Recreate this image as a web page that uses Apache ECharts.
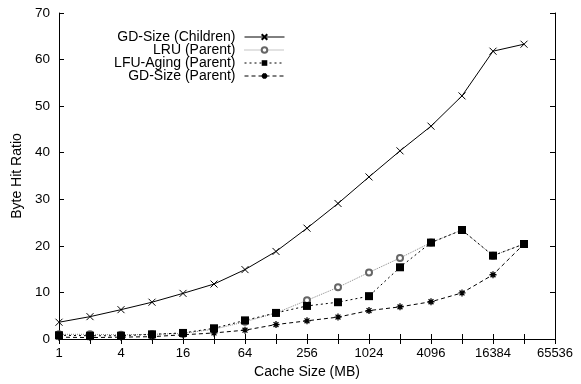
<!DOCTYPE html>
<html>
<head>
<meta charset="utf-8">
<script src="https://cdn.jsdelivr.net/npm/echarts@6/dist/echarts.min.js"></script>
<style>
  html, body { margin: 0; padding: 0; background: #fff; }
  #chart { width: 581px; height: 384px; }
</style>
</head>
<body>
<div id="chart"></div>
<script>
// Cache sizes in MB (powers of two)
const cacheSizes = [1, 2, 4, 8, 16, 32, 64, 128, 256, 512, 1024, 2048, 4096, 8192, 16384, 32768];

// Byte hit ratio (%) for each policy
const gdSizeChildren = [3.6, 4.8, 6.3, 7.9, 9.8, 11.8, 14.9, 18.8, 23.8, 29.1, 34.8, 40.4, 45.7, 52.2, 61.8, 63.3];
const lruParent      = [1.0, 1.0, 0.9, 1.0, 1.2, 2.1, 3.7, 5.6, 8.3, 11.1, 14.3, 17.4, 20.7, 23.4, 17.9, 20.4];
const lfuAgingParent = [0.8, 0.7, 0.7, 1.0, 1.3, 2.3, 4.0, 5.6, 7.1, 7.9, 9.2, 15.4, 20.7, 23.4, 17.9, 20.4];
const gdSizeParent   = [0.4, 0.3, 0.4, 0.5, 0.9, 1.3, 1.9, 3.1, 3.9, 4.7, 6.1, 6.9, 8.0, 9.9, 13.8, 20.4];

const seriesNames = ['GD-Size (Children)', 'LRU (Parent)', 'LFU-Aging (Parent)', 'GD-Size (Parent)'];
const yTicks = { min: 0, max: 70, step: 10 };
const xRange = { min: 1, max: 65536 };

const FONT = 'Liberation Sans, Arial, Helvetica, sans-serif';

const pairs = (ys) => cacheSizes.map((x, i) => [x, ys[i]]);

const crossSymbol = 'path://M0,0L10,10M10,0L0,10';
const starSymbol = 'path://M0,5L10,5M5,0L5,10M1.5,1.5L8.5,8.5M8.5,1.5L1.5,8.5';

const chart = echarts.init(document.getElementById('chart'), null, { renderer: 'canvas' });

const axisLineStyle = { color: '#000', width: 1 };

const legendRow = (name, top) => ({
  data: [name],
  right: 296,
  top: top,
  orient: 'horizontal',
  align: 'right',
  padding: 0,
  itemWidth: 40,
  itemHeight: 7,
  selectedMode: false,
  lineStyle: { width: 1 },
  textStyle: { fontFamily: FONT, fontSize: 14, color: '#000', padding: [0, 4, 0, 0] }
});

chart.setOption({
  animation: false,
  backgroundColor: '#fff',
  grid: { left: 59, right: 26, top: 13, bottom: 45, containLabel: false },
  legend: [
    legendRow(seriesNames[0], 30),
    legendRow(seriesNames[1], 43),
    legendRow(seriesNames[2], 56),
    legendRow(seriesNames[3], 69)
  ],
  xAxis: [
    {
      type: 'log',
      logBase: 2,
      min: xRange.min,
      max: xRange.max,
      splitNumber: 16,
      interval: 1,
      name: 'Cache Size (MB)',
      nameLocation: 'middle',
      nameGap: 26,
      nameTextStyle: { fontFamily: FONT, fontSize: 14, color: '#000' },
      axisLine: { show: true, lineStyle: axisLineStyle },
      axisTick: { show: true, inside: true, length: 5, lineStyle: axisLineStyle },
      axisLabel: {
        fontFamily: FONT, fontSize: 13, color: '#000', margin: 8,
        showMinLabel: true, showMaxLabel: true, hideOverlap: false,
        formatter: (v) => (Math.round(Math.log2(v)) % 2 === 0 ? String(Math.round(v)) : '')
      },
      splitLine: { show: false }
    },
    {
      type: 'log',
      logBase: 2,
      position: 'top',
      min: xRange.min,
      max: xRange.max,
      splitNumber: 16,
      interval: 1,
      axisLine: { show: true, lineStyle: axisLineStyle },
      axisTick: { show: true, inside: true, length: 5, lineStyle: axisLineStyle },
      axisLabel: { show: false },
      splitLine: { show: false }
    }
  ],
  yAxis: [
    {
      type: 'value',
      min: yTicks.min,
      max: yTicks.max,
      interval: yTicks.step,
      name: 'Byte Hit Ratio',
      nameLocation: 'middle',
      nameGap: 34,
      nameTextStyle: { fontFamily: FONT, fontSize: 14, color: '#000' },
      axisLine: { show: true, lineStyle: axisLineStyle },
      axisTick: { show: true, inside: true, length: 5, lineStyle: axisLineStyle },
      axisLabel: { fontFamily: FONT, fontSize: 13.5, color: '#000', margin: 9 },
      splitLine: { show: false }
    },
    {
      type: 'value',
      position: 'right',
      min: yTicks.min,
      max: yTicks.max,
      interval: yTicks.step,
      axisLine: { show: true, lineStyle: axisLineStyle },
      axisTick: { show: true, inside: true, length: 5, lineStyle: axisLineStyle },
      axisLabel: { show: false },
      splitLine: { show: false }
    }
  ],
  series: [
    {
      name: seriesNames[0],
      type: 'line',
      data: pairs(gdSizeChildren),
      color: '#000',
      symbol: crossSymbol,
      symbolSize: 7,
      showAllSymbol: true,
      lineStyle: { color: '#000', width: 1, type: 'solid' },
      itemStyle: { color: '#000', borderColor: '#000', borderWidth: 1 }
    },
    {
      name: seriesNames[1],
      type: 'line',
      data: pairs(lruParent),
      color: '#666',
      symbol: 'emptyCircle',
      symbolSize: 6,
      showAllSymbol: true,
      lineStyle: { color: '#8a8a8a', width: 1, type: [1, 1] },
      itemStyle: { color: '#666', borderColor: '#666', borderWidth: 1 }
    },
    {
      name: seriesNames[2],
      type: 'line',
      data: pairs(lfuAgingParent),
      color: '#000',
      symbol: 'rect',
      symbolSize: 8,
      showAllSymbol: true,
      lineStyle: { color: '#000', width: 1, type: [2, 3] },
      itemStyle: { color: '#000', borderWidth: 0 }
    },
    {
      name: seriesNames[3],
      type: 'line',
      data: pairs(gdSizeParent),
      color: '#000',
      symbol: starSymbol,
      symbolSize: 7,
      showAllSymbol: true,
      lineStyle: { color: '#000', width: 1, type: [4, 3] },
      itemStyle: { color: '#000', borderColor: '#000', borderWidth: 1.3 }
    }
  ]
});
</script>
</body>
</html>
